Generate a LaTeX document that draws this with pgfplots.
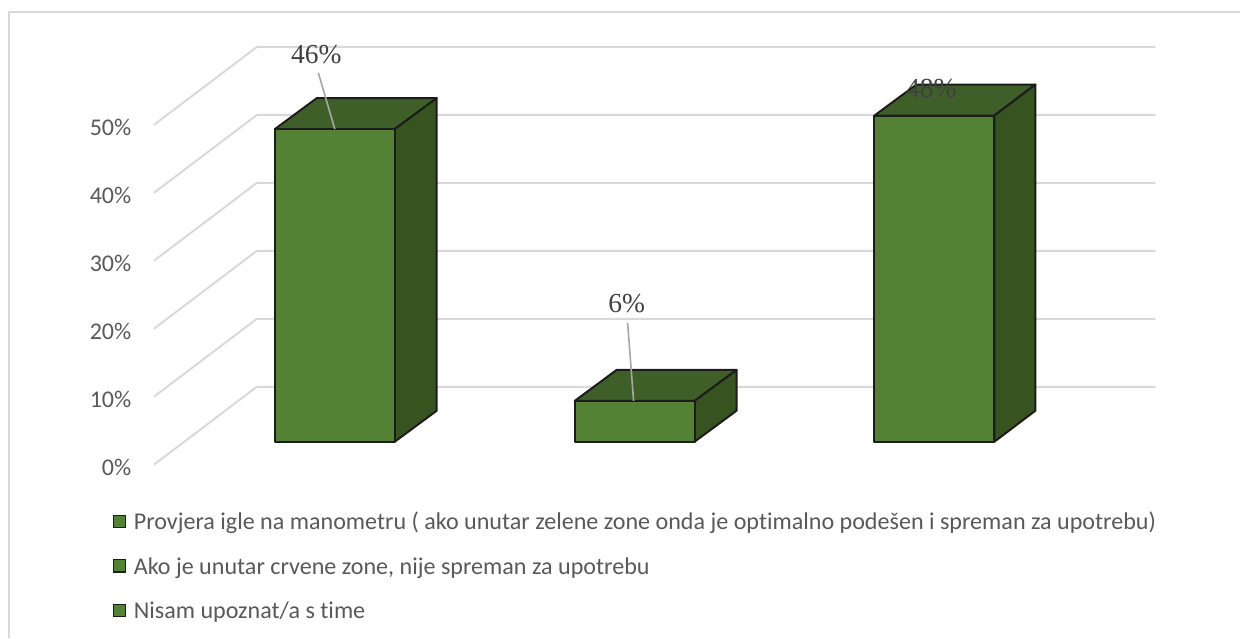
\documentclass[border=0pt]{standalone}
\usepackage{pgfplots}
\pgfplotsset{compat=1.18}
\usepackage{fontspec}
\setmainfont[Ligatures=NoCommon]{Carlito}
\newfontfamily\labelfont{Liberation Serif}
\definecolor{barfront}{HTML}{548235}
\definecolor{bartop}{HTML}{3F5F28}
\definecolor{barside}{HTML}{375320}
\definecolor{baredge}{HTML}{1C1C1C}
\definecolor{gridgrey}{HTML}{D9D9D9}
\definecolor{ticktext}{HTML}{595959}
\definecolor{valuetext}{HTML}{404040}
\definecolor{leader}{HTML}{A6A6A6}
\pgfplotsset{
  canvas/.style={
    scale only axis, width=1241pt, height=638pt,
    at={(0pt,0pt)}, anchor=south west,
    xmin=0, xmax=1241, clip=false,
    axis line style={draw=none}, major tick style={draw=none}, xtick=\empty,
  },
  wall/.style={draw=gridgrey, line width=2pt, forget plot},
  face/.style={draw=baredge, line width=2pt, line join=round, forget plot},
  pointer/.style={draw=leader, line width=1.6pt, forget plot},
}
\begin{document}
\begin{tikzpicture}
% Back wall and side wall: the y axis here is read on the front plane of the box
\begin{axis}[canvas,
    ymin=-25.441, ymax=68.382,
    ytick={0,10,20,30,40,50},
    yticklabel={\pgfmathprintnumber{\tick}\%},
    /pgf/number format/assume math mode=true,
    yticklabel style={anchor=east, xshift=131.5pt, yshift=-2.7pt, font=\fontsize{24}{26}\selectfont, text=ticktext, inner sep=0pt},
  ]
  % frame of the chart area
  \addplot[wall, line width=1.6pt] coordinates {(9,-25.441) (9,66.6) (1241,66.6)};
  % grid lines: value, then the step back to the rear wall
  \addplot[wall] coordinates {(154,0)  (257,11.47) (1156,11.47)};
  \addplot[wall] coordinates {(154,10) (257,21.47) (1156,21.47)};
  \addplot[wall] coordinates {(154,20) (257,31.47) (1156,31.47)};
  \addplot[wall] coordinates {(154,30) (257,41.47) (1156,41.47)};
  \addplot[wall] coordinates {(154,40) (257,51.47) (1156,51.47)};
  \addplot[wall] coordinates {(154,50) (257,61.47) (1156,61.47)};
\end{axis}
% Bars: the y axis here starts at the floor under the bars
\begin{axis}[canvas,
    ymin=-28.824, ymax=65,
    ytick=\empty,
    legend style={at={(113.5pt,138.5pt)}, anchor=north west, draw=none, fill=none,
      inner sep=0pt, outer sep=0pt, row sep=0pt, column sep=8pt,
      font=\fontsize{24.1}{26}\selectfont, text=ticktext,
      nodes={inner sep=0pt, text height=30.5pt, text depth=14pt}},
    legend cell align=left,
  ]
  % first bar, 46 %
  \addplot[face, fill=bartop]  coordinates {(275,46) (317,50.56) (437,50.56) (395,46)} -- cycle;
  \addplot[face, fill=barside] coordinates {(395,0) (437,4.56) (437,50.56) (395,46)} -- cycle;
  \addplot[face, fill=barfront] coordinates {(275,0) (395,0) (395,46) (275,46)} -- cycle;
  % second bar, 6 %
  \addplot[face, fill=bartop]  coordinates {(575,6) (617,10.56) (737,10.56) (695,6)} -- cycle;
  \addplot[face, fill=barside] coordinates {(695,0) (737,4.56) (737,10.56) (695,6)} -- cycle;
  \addplot[face, fill=barfront] coordinates {(575,0) (695,0) (695,6) (575,6)} -- cycle;
  % third bar, 48 %
  \addplot[face, fill=bartop]  coordinates {(875,48) (917,52.56) (1036,52.56) (995,48)} -- cycle;
  \addplot[face, fill=barside] coordinates {(995,0) (1036,4.56) (1036,52.56) (995,48)} -- cycle;
  \addplot[face, fill=barfront] coordinates {(875,0) (995,0) (995,48) (875,48)} -- cycle;
  % value labels with their leader lines
  \addplot[pointer] coordinates {(318.5,54.3) (335,46)};
  \addplot[pointer] coordinates {(628,17.5) (634,6)};
  \node[font=\labelfont\fontsize{27.5}{30}\selectfont, text=valuetext, inner sep=0pt] at (axis cs:316.5,57) {46\%};
  \node[font=\labelfont\fontsize{27.5}{30}\selectfont, text=valuetext, inner sep=0pt] at (axis cs:627,20.3) {6\%};
  \node[font=\labelfont\fontsize{27.5}{30}\selectfont, text=valuetext, inner sep=0pt] at (axis cs:932,52) {48\%};
  % legend
  \addlegendimage{only marks, mark=square*, mark size=6.2pt, mark options={fill=barfront, draw=baredge, line width=1.3pt}}
  \addlegendentry{Provjera igle na manometru ( ako unutar zelene zone onda je optimalno podešen i spreman za upotrebu)}
  \addlegendimage{only marks, mark=square*, mark size=6.2pt, mark options={fill=barfront, draw=baredge, line width=1.3pt}}
  \addlegendentry{Ako je unutar crvene zone, nije spreman za upotrebu}
  \addlegendimage{only marks, mark=square*, mark size=6.2pt, mark options={fill=barfront, draw=baredge, line width=1.3pt}}
  \addlegendentry{Nisam upoznat/a s time}
\end{axis}
\end{tikzpicture}
\end{document}
